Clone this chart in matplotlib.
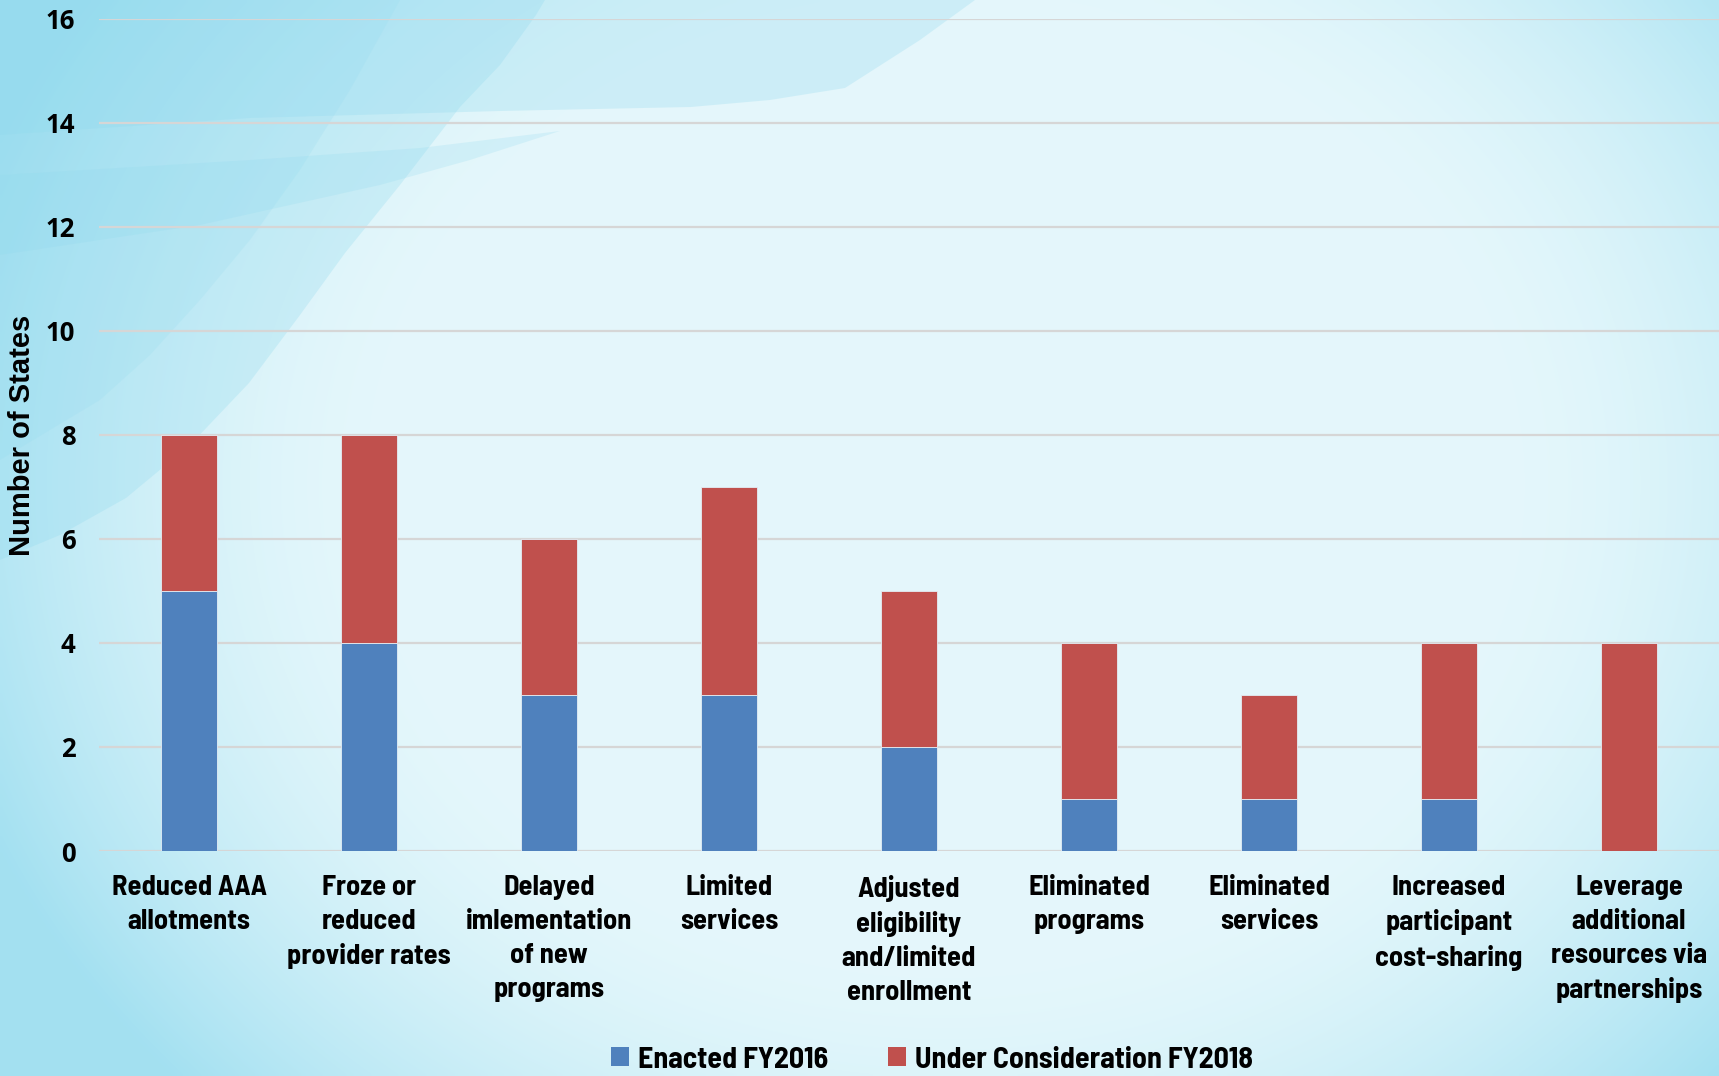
import numpy as np
import matplotlib
matplotlib.use("Agg")
import matplotlib.pyplot as plt
from matplotlib.patches import Patch, Polygon
from matplotlib import font_manager

##### DATA #####
categories = ["Reduced AAA\nallotments",
              "Froze or\nreduced\nprovider rates",
              "Delayed\nimlementation\nof new\nprograms",
              "Limited\nservices",
              "Adjusted\neligibility\nand/limited\nenrollment",
              "Eliminated\nprograms",
              "Eliminated\nservices",
              "Increased\nparticipant\ncost-sharing",
              "Leverage\nadditional\nresources via\npartnerships"]
enacted_fy2016 = [5, 4, 3, 3, 2, 1, 1, 1, 0]
consider_fy2018 = [3, 4, 3, 4, 3, 3, 2, 3, 4]
series_names = ["Enacted FY2016", "Under Consideration FY2018"]
yticks = [0, 2, 4, 6, 8, 10, 12, 14, 16]


##### FONTS #####
# look for a bold condensed face (closest thing to Calibri bold)
def pick_condensed():
    cands = []
    for f in font_manager.fontManager.ttflist:
        nm = (f.name + " " + f.fname).lower()
        cond = ("condensed" in nm or "narrow" in nm or
                str(f.stretch) in ("condensed", "semi-condensed", "extra-condensed"))
        w = f.weight if isinstance(f.weight, int) else 700
        if cond and w >= 600 and "extra" not in nm and "italic" not in nm and f.style == "normal":
            cands.append(f)
    if not cands:
        return None
    cands.sort(key=lambda f: (("semi" not in f.fname.lower()) and ("semicondensed" not in f.fname.lower()),
                              abs((f.weight if isinstance(f.weight, int) else 700) - 700)))
    return cands[0].fname


cond_file = pick_condensed()


def lab_font(size):
    if cond_file:
        return font_manager.FontProperties(fname=cond_file, size=size)
    return font_manager.FontProperties(family="Open Sans", weight="bold", size=size * 0.87)


W, H = 1719, 1076
fig = plt.figure(figsize=(W / 100, H / 100), dpi=100)

##### BACKGROUND #####
bg = fig.add_axes([0, 0, 1, 1], zorder=0)
xx, yy = np.meshgrid(np.linspace(0, 1, 400), np.linspace(0, 1, 250))
d = np.sqrt(((xx - 0.55) / 0.55) ** 2 + ((yy - 0.45) / 0.75) ** 2)
w = np.clip((d - 0.6) / 0.5, 0, 1) ** 1.6
c0 = np.array([0.895, 0.968, 0.985])
c1 = np.array([0.64, 0.88, 0.945])
img = c0[None, None, :] * (1 - w[..., None]) + c1[None, None, :] * w[..., None]
bg.imshow(img, extent=(0, W, H, 0), aspect="auto", interpolation="bilinear")

# decorative swooshes
swoosh = "#8fd9ee"
shapes = [
    ([(0, 0), (545, 0), (536, 15), (500, 65), (460, 107), (400, 185), (345, 253), (300, 315),
      (249, 383), (190, 445), (126, 498), (60, 535), (0, 560)], 0.28),
    ([(0, 0), (975, 0), (920, 40), (845, 88), (770, 100), (691, 107), (500, 111), (250, 118), (0, 135)], 0.28),
    ([(0, 175), (250, 160), (420, 148), (560, 131), (470, 160), (380, 185), (200, 225), (0, 255)], 0.22),
    ([(0, 0), (400, 0), (350, 90), (300, 170), (250, 240), (200, 300), (150, 355), (100, 400), (0, 460)], 0.18),
]
for pts, a in shapes:
    bg.add_patch(Polygon(pts, closed=True, facecolor=swoosh, edgecolor="none", alpha=a))
bg.set_xlim(0, W)
bg.set_ylim(H, 0)
bg.axis("off")

##### CHART #####
ax = fig.add_axes([99 / W, 1 - 851 / H, 1 - 99 / W, (851 - 18.5) / H], zorder=1)
ax.patch.set_alpha(0)
x = np.arange(len(categories))
ax.bar(x, enacted_fy2016, width=0.31, color="#4F81BD", edgecolor="#E4EEF5", linewidth=0.6, zorder=3)
ax.bar(x, consider_fy2018, width=0.31, bottom=enacted_fy2016, color="#C0504D",
       edgecolor="#E4EEF5", linewidth=0.6, zorder=3)

ax.set_xlim(-0.5, len(categories) - 0.5)
ax.set_ylim(0, 16)
ax.set_yticks(yticks)
ax.yaxis.grid(True, color="#D6D6D6", linewidth=1.6)
ax.set_axisbelow(True)
for s in ax.spines.values():
    s.set_visible(False)
ax.tick_params(axis="both", length=0)
ax.tick_params(axis="y", pad=17)
ax.tick_params(axis="x", pad=17)
ax.set_yticklabels([str(t) for t in yticks], family=["Open Sans", "DejaVu Sans"],
                   fontweight="bold", fontsize=18.5)
ax.set_xticks(x)
ax.set_xticklabels(categories, linespacing=1.45)
for t in ax.get_xticklabels():
    t.set_fontproperties(lab_font(20.5))

fig.text(22 / W, 1 - 435 / H, "Number of States", rotation=90, ha="center", va="center",
         fontsize=21, fontweight="bold", family="Liberation Sans")

##### LEGEND #####
handles = [Patch(facecolor="#4F81BD", label=series_names[0]),
           Patch(facecolor="#C0504D", label=series_names[1])]
fig.legend(handles=handles, loc="center", bbox_to_anchor=(932 / W, 1 - 1060 / H), ncol=2,
           frameon=False, handlelength=0.6, handleheight=0.6, handletextpad=0.3,
           columnspacing=2.0, prop=lab_font(21.5))

fig.savefig("out.png", dpi=100)
